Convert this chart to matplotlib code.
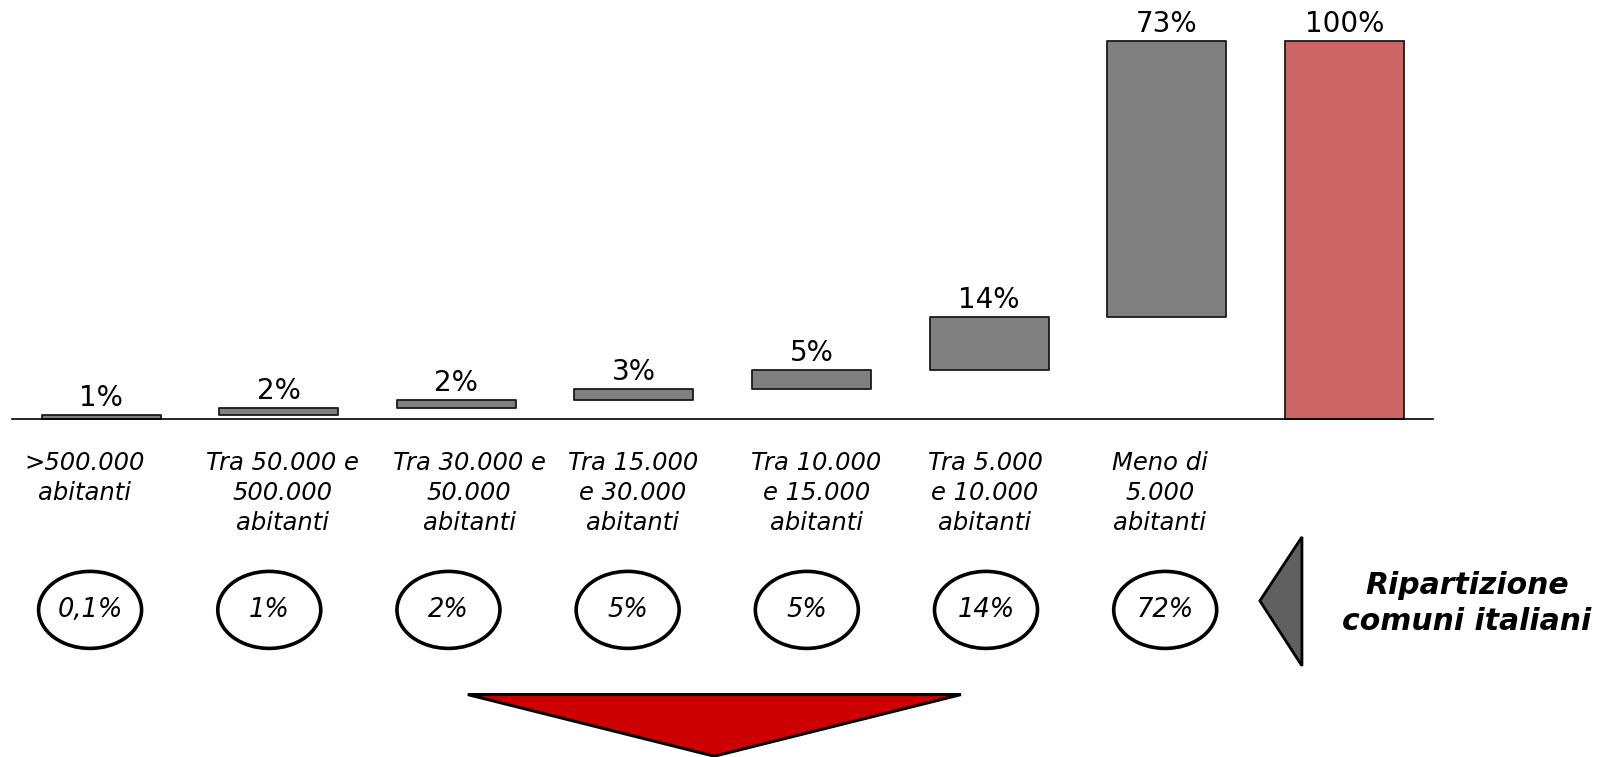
import matplotlib.pyplot as plt
from matplotlib.patches import Ellipse, Polygon

# Waterfall: share by size class of municipality
categories = [
    ">500.000\nabitanti",
    "Tra 50.000 e\n500.000\nabitanti",
    "Tra 30.000 e\n50.000\nabitanti",
    "Tra 15.000\ne 30.000\nabitanti",
    "Tra 10.000\ne 15.000\nabitanti",
    "Tra 5.000\ne 10.000\nabitanti",
    "Meno di\n5.000\nabitanti",
]
values = [1, 2, 2, 3, 5, 14, 73]
total_label = "100%"
total_value = 100
comuni_share = ["0,1%", "1%", "2%", "5%", "5%", "14%", "72%"]
side_title = "Ripartizione\ncomuni italiani"

# small horizontal nudges of the text boxes under each bar
label_dx = [-0.092, 0.02, 0.072, -0.006, 0.029, -0.023, -0.038]

W, H = 1611, 757
fig = plt.figure(figsize=(W / 100, H / 100), dpi=100)
# axes spans the full height; y in % units, baseline 419px from top, 100% at 41px
ppu = (419 - 41) / 100
ax = fig.add_axes([12.3 / W, 0, (1433 - 12.3) / W, 1])
ax.set_xlim(-0.5, 7.5)
ax.set_ylim(-(H - 419) / ppu, 100 + 41 / ppu)
ax.axis("off")

gray = "#808080"
red_bar = "#CC6666"
bw = 0.67

bottom = 0
for i, v in enumerate(values):
    ax.bar(i, v, bottom=bottom, width=bw, color=gray, edgecolor="#1a1a1a",
           linewidth=1.3, joinstyle="round")
    ax.text(i, bottom + v + 0.8, f"{v}%", ha="center", va="bottom", fontsize=20)
    bottom += v

n = len(values)
ax.bar(n, total_value, width=bw, color=red_bar, edgecolor="#1a1a1a", linewidth=1.3)
ax.text(n, total_value + 0.8, total_label, ha="center", va="bottom", fontsize=20)

ax.plot([-0.5, 7.5], [0, 0], color="black", linewidth=1.2, clip_on=False)

# category labels under the axis
for i, lab in enumerate(categories):
    ax.text(i + label_dx[i], -8.4, lab, ha="center", va="top", fontsize=17.5,
            style="italic", linespacing=1.32)

# ovals with the share of municipalities
ell_w = 103 / 177.6
ell_h = 77 / ppu
for i, s in enumerate(comuni_share):
    xc = i * 1.009 - 0.062
    ax.add_patch(Ellipse((xc, -50.5), ell_w, ell_h, facecolor="white",
                         edgecolor="black", linewidth=2.6, clip_on=False))
    ax.text(xc, -50.5, s, ha="center", va="center", fontsize=18.5, style="italic")

# left-pointing marker and side title
ax.add_patch(Polygon([(6.525, -48.1), (6.762, -31.2), (6.762, -65.3)],
                     closed=True, facecolor="#606060", edgecolor="black",
                     linewidth=2, clip_on=False))
ax.text(7.69, -48.8, side_title, ha="center", va="center", fontsize=21.5,
        style="italic", weight="bold", linespacing=1.32)

# big red arrow at the bottom
ax.add_patch(Polygon([(2.065, -72.9), (4.842, -72.9), (3.453, -89.2)],
                     closed=True, facecolor="#CC0000", edgecolor="black",
                     linewidth=2.2, clip_on=False))

fig.savefig("out.png", dpi=100)
